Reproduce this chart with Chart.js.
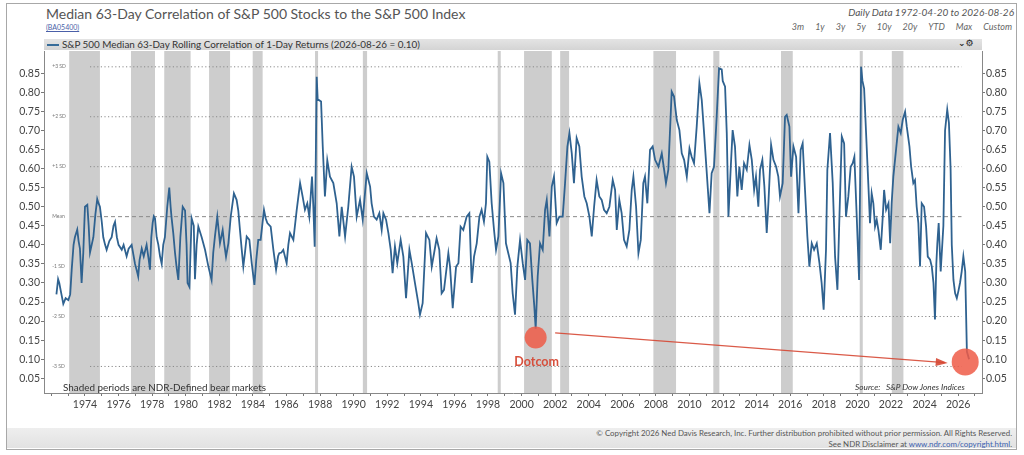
<!DOCTYPE html>
<html>
<head>
<meta charset="utf-8">
<script src="https://cdn.jsdelivr.net/npm/chart.js@4.4.1/dist/chart.umd.min.js"></script>
<style>
  html, body { margin: 0; padding: 0; background: #fff; }
  body { width: 1024px; height: 455px; position: relative; overflow: hidden; font-family: Lato, "Open Sans", sans-serif; }
  .abs { position: absolute; white-space: nowrap; }
  #frame { left: 6px; top: 3px; width: 1009px; height: 445px; border: 1px solid #a8a8a8; }
  #wrap { left: 0; top: 0; width: 1024px; height: 455px; z-index: 1; }
  .top { z-index: 2; }
  #title { left: 46px; top: 5px; font-size: 14px; color: #555; }
  #code { left: 46px; top: 23px; font-size: 7px; color: #4a5fa8; text-decoration: underline; }
  #info { right: 10px; top: 6px; font-size: 10px; font-style: italic; color: #555; }
  #btns { right: 12px; top: 21px; font-size: 9px; font-style: italic; color: #666; }
  #btns span { margin-left: 11px; }
  #legband { left: 44px; top: 39px; width: 938px; height: 11px; background: linear-gradient(#e4e4e4, #d4d4d4); }
  #legline { left: 47px; top: 44px; width: 12px; height: 1.5px; background: #376c99; }
  #legtext { left: 62px; top: 39px; font-size: 9.9px; line-height: 11px; color: #333; }
  #icons { left: 958px; top: 38px; font-size: 9px; font-family: "DejaVu Sans", sans-serif; font-weight: bold; color: #222; }
  #shaded { left: 63px; top: 381px; font-size: 9.9px; color: #333; }
  #source { left: 855px; top: 382px; font-size: 8.3px; font-style: italic; color: #333; }
  #foot { left: 7px; top: 428px; width: 1009px; height: 20px; background: linear-gradient(#eeeeee, #e2e2e2); }
  #copy1 { right: 12px; top: 428px; font-size: 7.9px; color: #555; }
  #copy2 { right: 12px; top: 439px; font-size: 7.9px; color: #555; }
  #copy2 a { color: #3a5fb0; text-decoration: none; }
</style>
</head>
<body>
<div id="frame" class="abs"></div>
<div id="title" class="abs">Median 63-Day Correlation of S&amp;P 500 Stocks to the S&amp;P 500 Index</div>
<div id="code" class="abs">(BA05400)</div>
<div id="info" class="abs">Daily Data 1972-04-20 to 2026-08-26</div>
<div id="btns" class="abs"><span>3m</span><span>1y</span><span>3y</span><span>5y</span><span>10y</span><span>20y</span><span>YTD</span><span>Max</span><span>Custom</span></div>
<div id="legband" class="abs"></div>
<div id="legline" class="abs"></div>
<div id="legtext" class="abs">S&amp;P 500 Median 63-Day Rolling Correlation of 1-Day Returns (2026-08-26 = 0.10)</div>
<div id="icons" class="abs">⌄⚙</div>
<div id="foot" class="abs"></div>
<div id="copy1" class="abs">© Copyright 2026 Ned Davis Research, Inc. Further distribution prohibited without prior permission. All Rights Reserved.</div>
<div id="copy2" class="abs">See NDR Disclaimer at <a>www.ndr.com/copyright.html</a>.</div>
<div id="wrap" class="abs"><canvas id="chart"></canvas></div>
<div id="shaded" class="abs top">Shaded periods are NDR-Defined bear markets</div>
<div id="source" class="abs top">Source:&nbsp;&nbsp;&nbsp;S&amp;P Dow Jones Indices</div>

<script>
// median 63-day correlation, [decimal year, value]
const decade70s = [
  [1972.30,0.27],[1972.40,0.31],[1972.47,0.30],[1972.60,0.27],[1972.71,0.245],[1972.85,0.26],[1973.01,0.255],[1973.12,0.27],
  [1973.21,0.335],[1973.32,0.40],[1973.40,0.42],[1973.54,0.44],[1973.62,0.41],[1973.70,0.39],[1973.80,0.30],[1973.90,0.38],
  [1974.00,0.50],[1974.14,0.505],[1974.22,0.45],[1974.30,0.38],[1974.40,0.40],[1974.50,0.42],[1974.62,0.48],[1974.73,0.52],
  [1974.80,0.51],[1974.89,0.50],[1975.00,0.46],[1975.09,0.42],[1975.20,0.40],[1975.29,0.387],[1975.45,0.41],[1975.59,0.42],
  [1975.70,0.45],[1975.79,0.46],[1975.90,0.42],[1976.00,0.40],[1976.19,0.387],[1976.30,0.40],[1976.48,0.37],[1976.60,0.39],
  [1976.78,0.40],[1976.98,0.35],[1977.10,0.33],[1977.17,0.317],[1977.25,0.36],[1977.38,0.39],[1977.50,0.37],[1977.67,0.40],
  [1977.80,0.36],[1977.87,0.335],[1977.95,0.42],[1978.03,0.457],[1978.10,0.475],[1978.17,0.47],[1978.27,0.42],[1978.37,0.40],
  [1978.47,0.37],[1978.57,0.35],[1978.66,0.40],[1978.76,0.42],[1978.90,0.50],[1979.02,0.55],[1979.10,0.50],[1979.16,0.47],
  [1979.26,0.43],[1979.36,0.38],[1979.46,0.34],[1979.56,0.308],[1979.68,0.42],[1979.82,0.50],[1979.96,0.49]
];
const decade80s = [
  [1980.05,0.40],[1980.11,0.30],[1980.22,0.29],[1980.35,0.47],[1980.48,0.45],[1980.55,0.31],[1980.65,0.40],[1980.75,0.448],
  [1980.95,0.42],[1981.15,0.387],[1981.35,0.343],[1981.54,0.308],[1981.64,0.38],[1981.74,0.422],[1981.88,0.474],[1982.04,0.404],
  [1982.20,0.439],[1982.30,0.40],[1982.40,0.369],[1982.54,0.404],[1982.68,0.474],[1982.87,0.535],[1983.03,0.518],[1983.13,0.49],
  [1983.23,0.439],[1983.33,0.39],[1983.43,0.343],[1983.53,0.38],[1983.63,0.422],[1983.79,0.413],[1983.93,0.352],[1984.09,0.295],
  [1984.20,0.36],[1984.32,0.413],[1984.46,0.413],[1984.66,0.492],[1984.76,0.47],[1984.86,0.457],[1985.06,0.448],[1985.22,0.387],
  [1985.38,0.335],[1985.50,0.37],[1985.57,0.378],[1985.70,0.38],[1985.81,0.387],[1986.01,0.352],[1986.11,0.40],[1986.21,0.431],
  [1986.41,0.413],[1986.61,0.492],[1986.81,0.562],[1986.96,0.527],[1987.10,0.492],[1987.24,0.509],[1987.36,0.474],[1987.52,0.579],
  [1987.60,0.50],[1987.68,0.395],[1987.74,0.60],[1987.80,0.841],[1987.86,0.78],[1987.92,0.78],[1988.06,0.776],[1988.16,0.658],
  [1988.29,0.527],[1988.43,0.622],[1988.59,0.579],[1988.79,0.562],[1988.99,0.509],[1989.15,0.422],[1989.29,0.50],[1989.49,0.422],
  [1989.68,0.50],[1989.88,0.605]
];
const decade90s = [
  [1990.02,0.579],[1990.18,0.474],[1990.38,0.518],[1990.54,0.466],[1990.78,0.588],[1990.98,0.553],[1991.07,0.509],[1991.21,0.474],
  [1991.37,0.466],[1991.53,0.483],[1991.67,0.439],[1991.77,0.483],[1991.93,0.466],[1992.07,0.431],[1992.21,0.387],[1992.32,0.326],
  [1992.46,0.396],[1992.60,0.352],[1992.80,0.413],[1992.96,0.369],[1993.12,0.26],[1993.32,0.387],[1993.46,0.352],[1993.65,0.30],
  [1993.85,0.247],[1993.95,0.217],[1994.11,0.247],[1994.31,0.431],[1994.51,0.413],[1994.65,0.343],[1994.79,0.378],[1994.94,0.417],
  [1995.10,0.387],[1995.24,0.273],[1995.38,0.282],[1995.64,0.378],[1995.74,0.343],[1995.90,0.234],[1996.10,0.343],[1996.24,0.352],
  [1996.37,0.448],[1996.53,0.439],[1996.73,0.474],[1996.89,0.483],[1997.03,0.30],[1997.17,0.369],[1997.33,0.404],[1997.49,0.474],
  [1997.62,0.492],[1997.76,0.461],[1997.88,0.509],[1997.96,0.631],[1998.08,0.618],[1998.22,0.509],[1998.36,0.439],[1998.48,0.387],
  [1998.62,0.422],[1998.78,0.588],[1998.92,0.562],[1999.07,0.404],[1999.21,0.378],[1999.35,0.352],[1999.47,0.273],[1999.61,0.217],
  [1999.75,0.343],[1999.91,0.413]
];
const decade00s = [
  [2000.07,0.352],[2000.21,0.308],[2000.34,0.413],[2000.50,0.404],[2000.64,0.308],[2000.76,0.238],[2000.84,0.18],[2000.96,0.317],
  [2001.10,0.404],[2001.26,0.387],[2001.40,0.492],[2001.50,0.518],[2001.66,0.422],[2001.80,0.553],[2001.93,0.579],[2002.09,0.457],
  [2002.25,0.474],[2002.45,0.474],[2002.59,0.562],[2002.73,0.658],[2002.85,0.693],[2002.99,0.64],[2003.12,0.562],[2003.28,0.68],
  [2003.44,0.658],[2003.58,0.579],[2003.74,0.527],[2003.88,0.509],[2004.04,0.474],[2004.18,0.422],[2004.32,0.50],[2004.47,0.57],
  [2004.63,0.527],[2004.77,0.518],[2004.91,0.492],[2005.07,0.483],[2005.23,0.50],[2005.43,0.57],[2005.57,0.544],[2005.67,0.439],
  [2005.82,0.518],[2005.96,0.483],[2006.10,0.413],[2006.26,0.396],[2006.42,0.439],[2006.56,0.544],[2006.66,0.579],[2006.82,0.50],
  [2006.96,0.378],[2007.10,0.413],[2007.25,0.562],[2007.35,0.579],[2007.49,0.509],[2007.65,0.649],[2007.81,0.658],[2007.95,0.623],
  [2008.15,0.605],[2008.35,0.64],[2008.49,0.597],[2008.60,0.562],[2008.74,0.597],[2008.94,0.802],[2009.08,0.789],[2009.24,0.728],
  [2009.40,0.701],[2009.54,0.64],[2009.68,0.623],[2009.84,0.579]
];
const decade10s = [
  [2010.00,0.653],[2010.13,0.631],[2010.27,0.614],[2010.43,0.71],[2010.59,0.824],[2010.73,0.78],[2010.87,0.693],[2011.03,0.588],
  [2011.19,0.483],[2011.32,0.588],[2011.46,0.605],[2011.62,0.736],[2011.76,0.863],[2011.92,0.86],[2011.98,0.83],[2012.12,0.815],
  [2012.22,0.693],[2012.32,0.474],[2012.46,0.605],[2012.57,0.701],[2012.71,0.658],[2012.85,0.527],[2012.97,0.605],[2013.11,0.544],
  [2013.25,0.614],[2013.41,0.597],[2013.57,0.662],[2013.71,0.623],[2013.85,0.544],[2013.96,0.579],[2014.10,0.50],[2014.20,0.597],
  [2014.34,0.623],[2014.46,0.553],[2014.60,0.431],[2014.70,0.509],[2014.86,0.662],[2015.00,0.623],[2015.16,0.605],[2015.29,0.579],
  [2015.39,0.527],[2015.55,0.562],[2015.69,0.736],[2015.79,0.741],[2015.95,0.71],[2016.05,0.579],[2016.19,0.658],[2016.35,0.631],
  [2016.49,0.483],[2016.62,0.649],[2016.74,0.666],[2016.88,0.544],[2017.02,0.422],[2017.14,0.343],[2017.28,0.404],[2017.42,0.387],
  [2017.58,0.404],[2017.74,0.352],[2017.87,0.30],[2017.99,0.23],[2018.13,0.387],[2018.21,0.597],[2018.37,0.693],[2018.53,0.562],
  [2018.67,0.369],[2018.81,0.282],[2018.93,0.474],[2019.07,0.684],[2019.21,0.666],[2019.32,0.474],[2019.46,0.527],[2019.60,0.605],
  [2019.72,0.614],[2019.82,0.631],[2019.96,0.474]
];
const decade20s = [
  [2020.10,0.308],[2020.17,0.60],[2020.22,0.867],[2020.30,0.83],[2020.40,0.81],[2020.51,0.70],[2020.65,0.56],[2020.75,0.457],
  [2020.85,0.535],[2020.95,0.509],[2021.05,0.448],[2021.15,0.466],[2021.25,0.439],[2021.39,0.387],[2021.51,0.474],[2021.59,0.544],
  [2021.71,0.492],[2021.85,0.509],[2021.95,0.404],[2022.04,0.509],[2022.14,0.579],[2022.30,0.649],[2022.44,0.71],[2022.58,0.693],
  [2022.70,0.728],[2022.84,0.749],[2022.94,0.71],[2023.10,0.658],[2023.20,0.605],[2023.33,0.562],[2023.43,0.57],[2023.53,0.50],
  [2023.63,0.457],[2023.73,0.343],[2023.83,0.509],[2023.97,0.50],[2024.09,0.448],[2024.19,0.369],[2024.33,0.361],[2024.43,0.343],
  [2024.53,0.30],[2024.62,0.204],[2024.70,0.35],[2024.76,0.404],[2024.84,0.457],[2024.96,0.33],[2025.12,0.45],[2025.22,0.70],
  [2025.35,0.755],[2025.45,0.72],[2025.55,0.60],[2025.62,0.40],[2025.72,0.308],[2025.82,0.273],[2025.92,0.26],[2026.02,0.28],
  [2026.11,0.30],[2026.21,0.33],[2026.31,0.37],[2026.42,0.33],[2026.52,0.12],[2026.65,0.10]
];

// NDR-defined bear markets (decimal years)
const bearStart = [1973.06, 1976.74, 1978.72, 1981.39, 1983.99, 1987.70, 1990.55, 1998.58, 2000.15, 2002.30, 2007.85, 2011.42, 2015.45, 2020.14, 2022.05];
const bearEnd   = [1974.89, 1978.17, 1980.29, 1982.64, 1984.58, 1987.88, 1990.80, 1998.76, 2001.80, 2002.83, 2009.20, 2011.78, 2016.15, 2020.32, 2022.74];

// standard deviation bands
const sdLevels = [0.867, 0.736, 0.605, 0.474, 0.343, 0.212, 0.081];
const sdNames  = ['+3 SD', '+2 SD', '+1 SD', 'Mean', '-1 SD', '-2 SD', '-3 SD'];
const sdSpan   = [1974.3, 2026.2];

const yTicks = [0.05, 0.10, 0.15, 0.20, 0.25, 0.30, 0.35, 0.40, 0.45, 0.50, 0.55, 0.60, 0.65, 0.70, 0.75, 0.80, 0.85];
const xLabelYears = [1974, 1976, 1978, 1980, 1982, 1984, 1986, 1988, 1990, 1992, 1994, 1996, 1998, 2000, 2002, 2004, 2006, 2008, 2010, 2012, 2014, 2016, 2018, 2020, 2022, 2024, 2026];

// annotations
const dotcomMark = [2000.84, 0.157];
const latestMark = [2026.42, 0.093];
const arrowFrom  = [2002.0, 0.169];
const arrowTo    = [2025.2, 0.091];

(function(){
  const xMin = 1971.56, xMax = 2027.42, yMin = 0.0114, yMax = 0.9085;
  const series = [].concat(decade70s, decade80s, decade90s, decade00s, decade10s, decade20s)
    .map(p => ({ x: p[0], y: p[1] }));

  Chart.defaults.font.family = 'Lato, "Open Sans", sans-serif';
  Chart.defaults.color = '#444';

  const overlay = {
    id: 'ndrOverlay',
    beforeDatasetsDraw(chart) {
      const { ctx, chartArea: a, scales: { x, y } } = chart;
      ctx.save();
      ctx.fillStyle = 'rgba(196,196,196,0.85)';
      bearStart.forEach((s, i) => {
        const x0 = x.getPixelForValue(s), x1 = x.getPixelForValue(bearEnd[i]);
        ctx.fillRect(x0, a.top, Math.max(x1 - x0, 2.5), a.bottom - a.top);
      });
      // little SD labels at the left
      ctx.fillStyle = '#777';
      ctx.font = '5px Lato';
      ctx.textBaseline = 'middle';
      sdLevels.forEach((v, i) => ctx.fillText(sdNames[i], x.getPixelForValue(1972.05), y.getPixelForValue(v)));
      ctx.restore();
    },
    afterDatasetsDraw(chart) {
      const { ctx, scales: { x, y } } = chart;
      const px = p => [x.getPixelForValue(p[0]), y.getPixelForValue(p[1])];
      ctx.save();
      // arrow
      const [ax, ay] = px(arrowFrom), [bx, by] = px(arrowTo);
      ctx.strokeStyle = 'rgba(214,72,52,0.9)';
      ctx.fillStyle = 'rgba(214,72,52,0.9)';
      ctx.lineWidth = 1.3;
      ctx.beginPath(); ctx.moveTo(ax, ay); ctx.lineTo(bx, by); ctx.stroke();
      const ang = Math.atan2(by - ay, bx - ax);
      ctx.beginPath();
      ctx.moveTo(bx + 3, by + 3 * Math.tan(ang));
      ctx.lineTo(bx - 9 * Math.cos(ang) + 4 * Math.sin(ang), by - 9 * Math.sin(ang) - 4 * Math.cos(ang));
      ctx.lineTo(bx - 9 * Math.cos(ang) - 4 * Math.sin(ang), by - 9 * Math.sin(ang) + 4 * Math.cos(ang));
      ctx.closePath(); ctx.fill();
      // circles
      ctx.fillStyle = 'rgba(238,92,72,0.85)';
      const [dx, dy] = px(dotcomMark);
      ctx.beginPath(); ctx.arc(dx, dy, 11, 0, Math.PI * 2); ctx.fill();
      const [lx, ly] = px(latestMark);
      ctx.beginPath(); ctx.arc(lx, ly, 13.5, 0, Math.PI * 2); ctx.fill();
      // label
      ctx.fillStyle = 'rgba(214,72,52,0.95)';
      ctx.font = 'bold 12.5px Lato';
      ctx.textAlign = 'center';
      ctx.textBaseline = 'middle';
      ctx.fillText('Dotcom', dx + 1, dy + 24);
      ctx.restore();
    }
  };

  const yScale = (pos, w) => ({
    position: pos,
    min: yMin, max: yMax,
    afterBuildTicks: s => { s.ticks = yTicks.map(v => ({ value: v })); },
    afterFit: s => { s.width = w; },
    ticks: { padding: 1, color: '#444', font: { size: 10.5 }, callback: v => v.toFixed(2) },
    grid: { drawOnChartArea: false, tickLength: 3, color: '#777' },
    border: { color: '#888' }
  });

  const sdSets = sdLevels.map((v, i) => ({
    data: [{ x: sdSpan[0], y: v }, { x: sdSpan[1], y: v }],
    borderColor: '#8a8a8a',
    borderWidth: 1,
    borderDash: sdNames[i] === 'Mean' ? [4, 3] : [1.2, 2.4],
    pointRadius: 0
  }));

  new Chart(document.getElementById('chart'), {
    type: 'line',
    data: {
      datasets: [{
        data: series,
        borderColor: '#2f6290',
        borderWidth: 1.8,
        pointRadius: 0,
        tension: 0
      }].concat(sdSets)
    },
    options: {
      responsive: true,
      maintainAspectRatio: false,
      animation: false,
      layout: { padding: { top: 51, left: 0, right: 0, bottom: 0 } },
      plugins: { legend: { display: false }, tooltip: { enabled: false } },
      scales: {
        x: {
          type: 'linear',
          min: xMin, max: xMax,
          afterBuildTicks: s => {
            const t = [];
            for (let yr = 1972; yr <= 2027; yr++) t.push({ value: yr });
            s.ticks = t;
          },
          afterFit: s => { s.height = 62; },
          ticks: {
            autoSkip: false, maxRotation: 0, padding: 2, color: '#444', font: { size: 10.5 },
            callback: v => xLabelYears.includes(v) ? String(v) : ''
          },
          grid: { drawOnChartArea: false, tickLength: 3, color: '#777' },
          border: { color: '#888' }
        },
        y: yScale('left', 44),
        y2: yScale('right', 42)
      }
    },
    plugins: [overlay]
  });
})();
</script>
</body>
</html>
